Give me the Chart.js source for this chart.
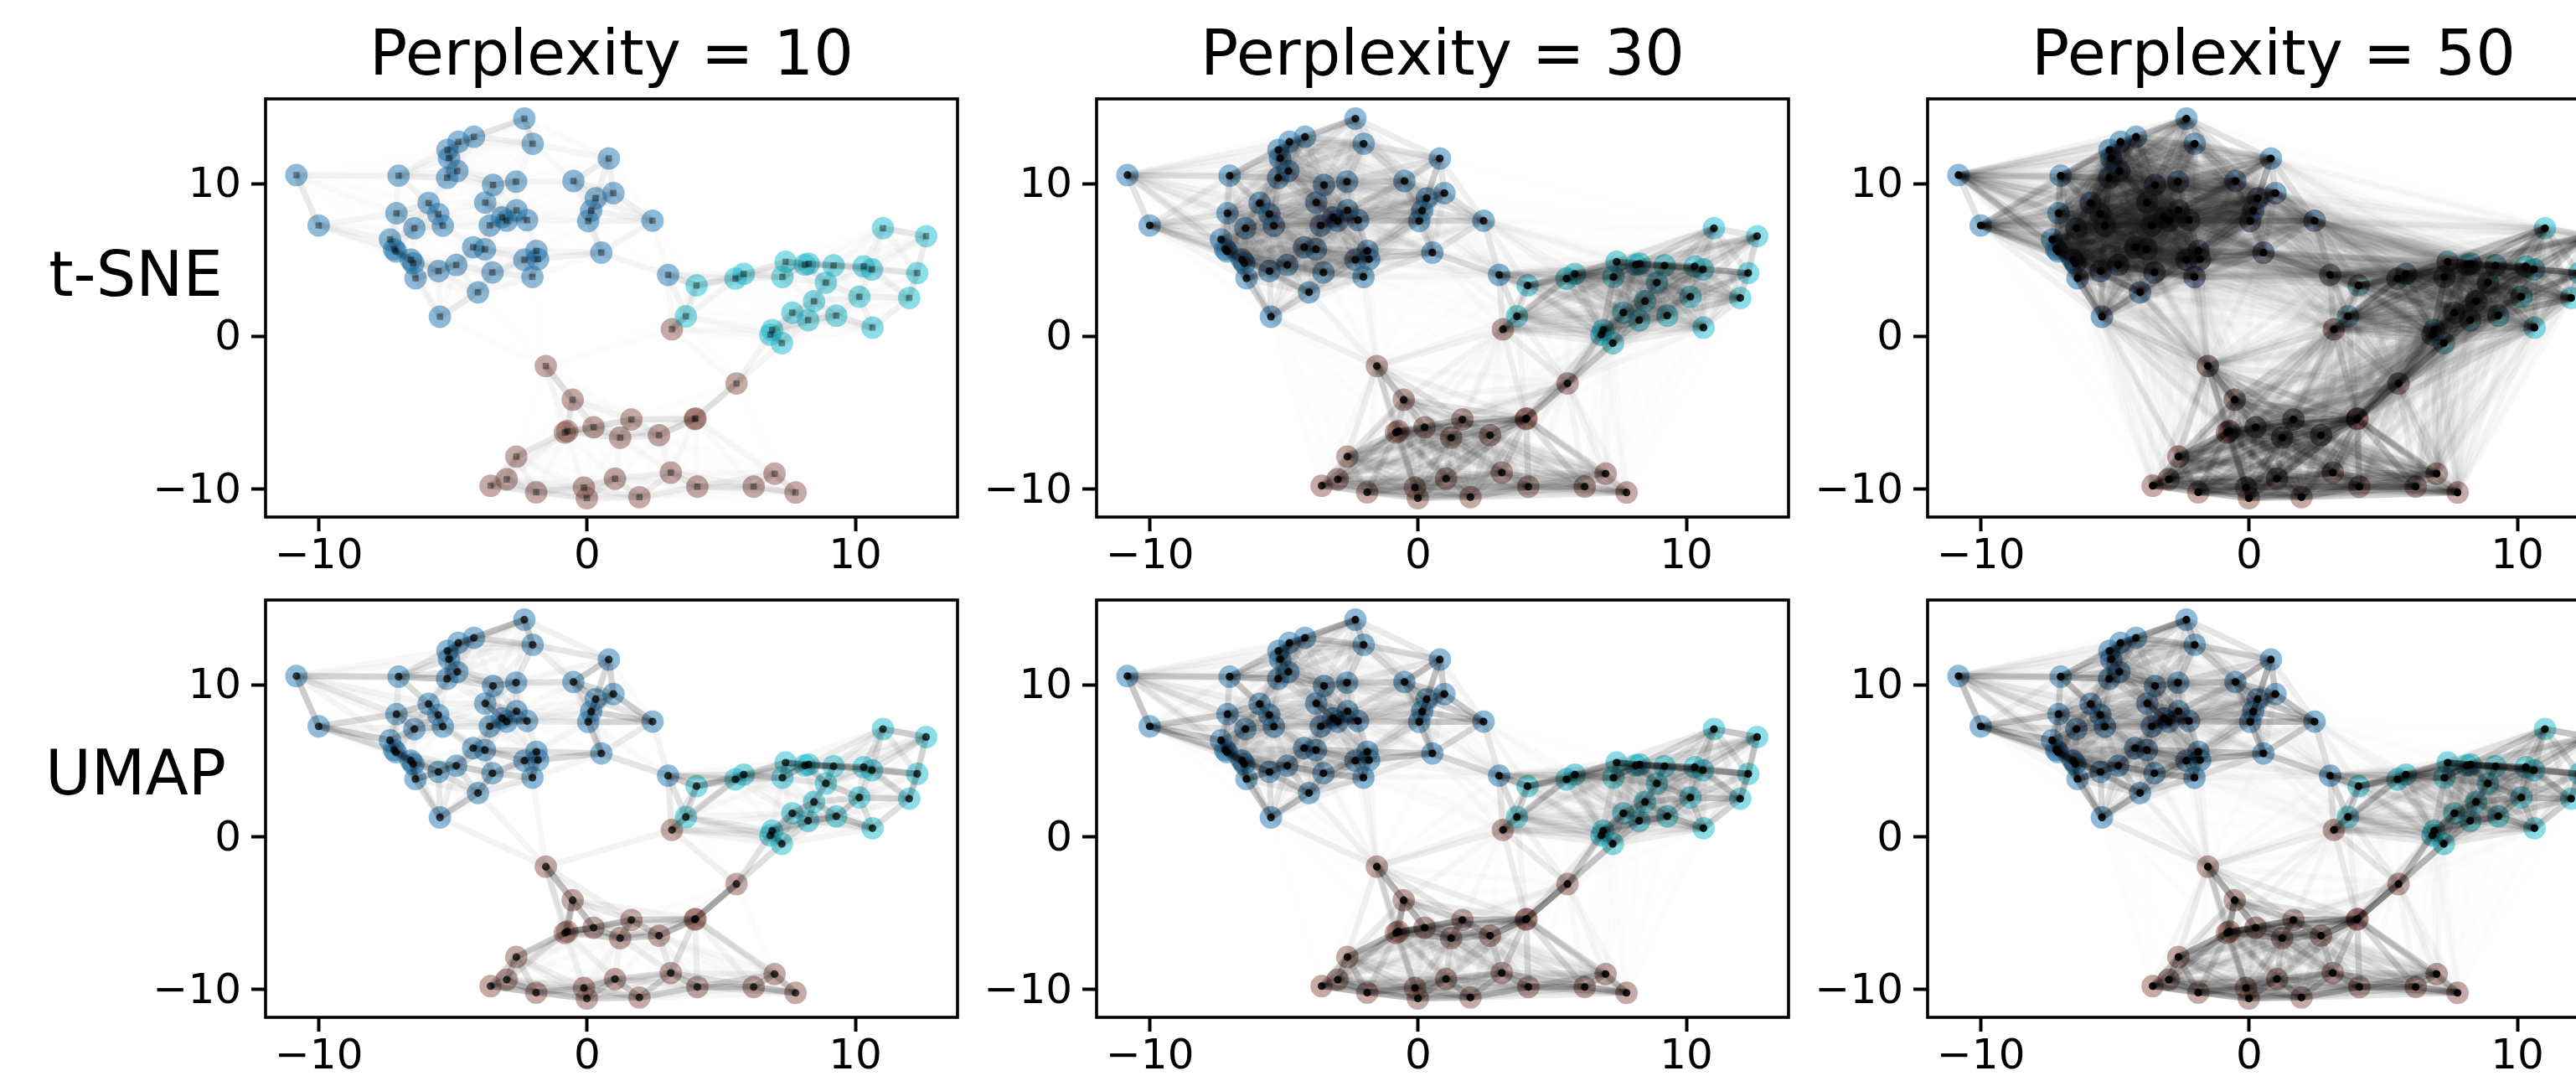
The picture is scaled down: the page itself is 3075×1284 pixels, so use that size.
<!DOCTYPE html>
<html><head><meta charset="utf-8">
<script src="https://cdn.jsdelivr.net/npm/chart.js@4"></script>
<style>
html,body{margin:0;padding:0;background:#fff;overflow:hidden}
#stage{position:relative;width:3075px;height:1284px;overflow:hidden;background:#fff}
canvas{position:absolute}
.rowlabel{position:absolute;font-family:"DejaVu Sans";font-size:75px;line-height:75px;color:#000;width:320px;text-align:center;white-space:nowrap}
</style></head><body>
<div id="stage"></div>
<script>
// Node positions
const blueX=[-10.84,-10.01,-7.03,-7.11,-6.44,-7.35,-7.20,-7.13,-6.57,-6.48,-6.40,-5.54,-4.88,-4.07,-5.49,-5.91,-5.55,-5.38,-5.21,-5.15,-4.80,-4.22,-2.34,-2.03,-4.84,-5.22,-3.51,-2.65,-3.80,-2.63,-3.17,-3.00,-2.24,-3.63,-4.25,-3.81,-1.89,-2.34,-1.83,-3.53,-2.04,-0.51,0.81,0.98,0.32,0.15,0.04,0.53,2.44,3.02];
const blueY=[10.57,7.27,10.53,8.07,7.09,6.35,5.71,5.57,5.02,4.79,3.81,4.28,4.68,2.89,1.29,8.74,8.02,7.25,12.22,11.68,12.75,13.08,14.27,12.62,10.84,10.39,9.92,10.14,8.77,8.26,7.80,7.58,7.62,7.27,5.84,5.71,5.60,5.02,5.06,4.19,3.90,10.18,11.66,9.39,9.05,8.24,7.56,5.49,7.58,4.03];
const tealX=[4.08,3.68,5.53,5.84,7.40,7.28,8.12,8.26,9.19,10.31,10.62,8.90,8.46,10.15,12.01,12.31,11.03,12.64,7.65,8.24,9.29,10.64,6.90,6.83,7.26];
const tealY=[3.34,1.32,3.79,4.10,4.89,3.90,4.70,4.76,4.65,4.59,4.39,3.52,2.31,2.60,2.52,4.15,7.09,6.57,1.56,1.07,1.36,0.58,0.42,0.11,-0.44];
const brownX=[3.16,-1.54,-0.54,1.65,0.24,-0.74,-0.83,1.23,2.68,4.04,4.02,5.57,-2.64,-3.00,-3.60,-1.90,-0.12,-0.01,1.04,1.95,3.12,4.11,6.21,6.99,7.77];
const brownY=[0.47,-1.94,-4.14,-5.44,-5.95,-6.20,-6.29,-6.63,-6.47,-5.37,-5.41,-3.08,-7.87,-9.36,-9.78,-10.21,-9.90,-10.59,-9.32,-10.53,-8.92,-9.84,-9.84,-8.99,-10.22];
const tickValues=[-10,0,10];
const perplexities=[10,30,50];
const nNeighbors=[10,30,50];
const rowNames=['t-SNE','UMAP'];
const colours=['rgba(31,119,180,0.5)','rgba(23,190,207,0.5)','rgba(140,86,75,0.5)'];
// Edge darkness per panel and opacity of the dark pile-up at each node, judged from the picture
const tsneStrength=[0.042,0.05,0.065];
const umapStrength=[0.2,0.22,0.24];
const hubOpacity=[[0.35,0.8,0.98],[0.7,0.85,0.9]];

const xMin=-11.99,xMax=13.81,yMin=-11.83,yMax=15.56;
const colLeft=[316.7,1308.7,2300.7],rowTop=[118.3,716];
const plotW=826.3,plotH=498.4,sideW=190,bottomH=90;

const pts=[];
[[blueX,blueY],[tealX,tealY],[brownX,brownY]].forEach(([X,Y])=>X.forEach((x,i)=>pts.push({x,y:Y[i]})));
const N=pts.length;
const D=pts.map(a=>pts.map(b=>Math.hypot(a.x-b.x,a.y-b.y)));

// Edge strengths are not readable one by one in the picture: they are the
// neighbour affinities each method computes over the nodes read above.
function tsneAlpha(perp,strength){
  const cond=[];
  for(let i=0;i<N;i++){
    let lo=0,hi=Infinity,beta=1,p=[];
    for(let it=0;it<60;it++){
      let sum=0;
      p=D[i].map((d,j)=>{const v=j===i?0:Math.exp(-d*d*beta);sum+=v;return v;});
      let H=0;
      p=p.map(v=>{const q=v/(sum||1);if(q>1e-12)H-=q*Math.log2(q);return q;});
      if(Math.abs(H-Math.log2(perp))<1e-4)break;
      if(H>Math.log2(perp)){lo=beta;beta=hi===Infinity?beta*2:(beta+hi)/2;}
      else{hi=beta;beta=(beta+lo)/2;}
    }
    cond.push(p);
  }
  const out=[];
  for(let i=0;i<N;i++)for(let j=i+1;j<N;j++){
    out.push([i,j,Math.min(1,strength*perp*(cond[i][j]+cond[j][i])/2)]);
  }
  return out;
}
function umapAlpha(k,strength){
  const W=pts.map(()=>new Array(N).fill(0));
  for(let i=0;i<N;i++){
    const idx=[...Array(N).keys()].filter(j=>j!==i).sort((a,b)=>D[i][a]-D[i][b]).slice(0,k);
    const rho=D[i][idx[0]];
    let lo=0,hi=1000,s=1;
    for(let it=0;it<60;it++){
      let sum=0;idx.forEach(j=>sum+=Math.exp(-(D[i][j]-rho)/s));
      if(sum>Math.log2(k))hi=s;else lo=s;
      s=(lo+hi)/2;
    }
    idx.forEach(j=>W[i][j]=Math.exp(-(D[i][j]-rho)/s));
  }
  const out=[];
  for(let i=0;i<N;i++)for(let j=i+1;j<N;j++){
    const a=W[i][j],b=W[j][i];
    out.push([i,j,strength*(a+b-a*b)]);
  }
  return out;
}

const frame={id:'frame',afterDatasetsDraw(c){
  const a=c.chartArea,g=c.ctx;
  g.save();g.strokeStyle='#000';g.lineWidth=3.6;
  g.strokeRect(a.left,a.top,a.right-a.left,a.bottom-a.top);g.restore();
}};

function axis(side){
  return {type:'linear',min:side==='x'?xMin:yMin,max:side==='x'?xMax:yMax,
    afterBuildTicks(s){s.ticks=tickValues.map(v=>({value:v}));},
    afterFit(s){
      if(side==='x')s.height=bottomH;else s.width=sideW;
      s.paddingTop=s.paddingBottom=s.paddingLeft=s.paddingRight=0;
    },
    border:{display:false},
    grid:{drawOnChartArea:false,drawTicks:true,tickLength:17,tickWidth:4,tickColor:'#000'},
    ticks:{color:'#000',padding:side==='x'?6:12,maxRotation:0,autoSkip:false,labelOffset:side==='y'?3:0,
      font:{family:'DejaVu Sans',size:50,lineHeight:1},
      callback:v=>String(v).replace('-','\u2212')}};
}

const stage=document.getElementById('stage');
rowNames.forEach((name,r)=>{
  [0,1,2].forEach(c=>{
    const edges=r===0?tsneAlpha(perplexities[c],tsneStrength[c]):umapAlpha(nNeighbors[c],umapStrength[c]);
    const ds=[
      {label:'a',data:blueX.map((x,i)=>({x,y:blueY[i]})),backgroundColor:colours[0],order:1},
      {label:'b',data:tealX.map((x,i)=>({x,y:tealY[i]})),backgroundColor:colours[1],order:1},
      {label:'c',data:brownX.map((x,i)=>({x,y:brownY[i]})),backgroundColor:colours[2],order:1}
    ].map(d=>Object.assign(d,{pointRadius:13.4,pointBorderWidth:0,borderWidth:0,showLine:false}));
    edges.forEach(([i,j,a])=>{
      if(a<0.003)return;
      ds.push({data:[pts[i],pts[j]],showLine:true,pointRadius:0,borderWidth:7.5,
        borderColor:'rgba(0,0,0,'+a.toFixed(4)+')',order:0,borderCapStyle:'butt'});
    });
    const sparse=(r===0&&c===0);
    ds.push({label:'hub',data:pts,showLine:false,order:-1,pointBorderWidth:0,borderWidth:0,
      pointStyle:sparse?'rect':'circle',pointRadius:sparse?5.3:4.6,
      backgroundColor:'rgba(0,0,0,'+hubOpacity[r][c]+')'});
    const top=r===0?rowTop[0]:20;
    const cv=document.createElement('canvas');
    const w=sideW*2+plotW,h=top+plotH+bottomH;
    cv.width=Math.round(w);cv.height=Math.round(h);
    cv.style.left=(colLeft[c]-sideW)+'px';
    cv.style.top=(rowTop[r]-top)+'px';
    cv.style.width=Math.round(w)+'px';cv.style.height=Math.round(h)+'px';
    stage.appendChild(cv);
    new Chart(cv,{type:'scatter',data:{datasets:ds},plugins:[frame],options:{
      responsive:false,animation:false,events:[],devicePixelRatio:1,
      layout:{padding:{top:r===0?0:top,right:sideW,left:0,bottom:0}},
      plugins:{legend:{display:false},tooltip:{enabled:false},
        title:{display:r===0,fullSize:false,text:'Perplexity = '+perplexities[c],color:'#000',
          font:{family:'DejaVu Sans',size:75,weight:'normal',lineHeight:1},padding:{top:32,bottom:11}}},
      scales:{x:axis('x'),y:axis('y')}
    }});
  });
  const lab=document.createElement('div');
  lab.className='rowlabel';lab.textContent=name;
  lab.style.left='2px';
  lab.style.top=(r===0?290:885)+'px';
  stage.appendChild(lab);
});
</script></body></html>
